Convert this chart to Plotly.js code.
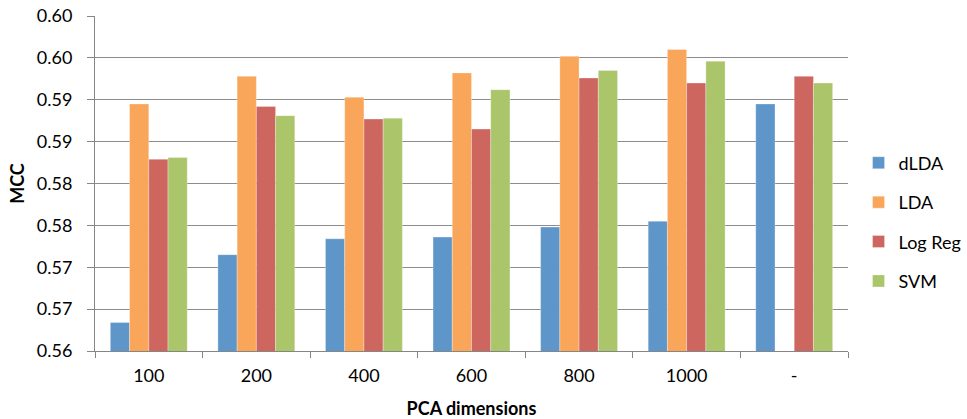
<!DOCTYPE html>
<html>
<head>
<meta charset="utf-8">
<script src="https://cdn.plot.ly/plotly-3.0.1.min.js"></script>
<style>html,body{margin:0;padding:0;background:#fff;}#chart{width:967px;height:419px;overflow:hidden;}</style>
</head>
<body>
<div id="chart"></div>
<script>
const categories = ["100", "200", "400", "600", "800", "1000", "-"];
const dLDA   = [0.5634, 0.5715, 0.5734, 0.5736, 0.5748, 0.5755, 0.5895];
const LDA    = [0.5895, 0.5928, 0.5903, 0.5932, 0.5952, 0.5960, null];
const LogReg = [0.5829, 0.5892, 0.5877, 0.5865, 0.5926, 0.5920, 0.5928];
const SVM    = [0.5831, 0.5881, 0.5878, 0.5912, 0.5935, 0.5946, 0.5920];
const yTickVals = [0.56, 0.565, 0.57, 0.575, 0.58, 0.585, 0.59, 0.595, 0.60];
const yTickText = ["0.56", "0.57", "0.57", "0.58", "0.58", "0.59", "0.59", "0.60", "0.60"];

const seriesNames = ["dLDA", "LDA", "Log Reg", "SVM"];
const seriesData = [dLDA, LDA, LogReg, SVM];
const colors = ["#5f96c9", "#f9a65a", "#ce6660", "#abc56b"];

const traces = seriesData.map((vals, i) => ({
  type: "bar",
  name: seriesNames[i],
  x: categories,
  y: vals,
  legendgroup: "g" + i,
  marker: {color: colors[i], line: {color: "rgba(255,255,255,0.6)", width: 0.5}},
  hoverinfo: "x+y+name"
}));

const fam = "Lato, 'Open Sans', sans-serif";
const font = {family: fam, size: 18, color: "#000"};

const layout = {
  width: 967, height: 419,
  margin: {l: 95, r: 119, t: 16, b: 68, autoexpand: false},
  paper_bgcolor: "#fff", plot_bgcolor: "#fff",
  font: font,
  barmode: "group",
  bargap: 0.285,
  bargroupgap: 0,
  showlegend: true,
  legend: {
    x: 1.014, xanchor: "left", y: 0.385, yanchor: "middle",
    font: {family: fam, size: 18, color: "#000"},
    tracegroupgap: 13, traceorder: "grouped"
  },
  xaxis: {
    type: "category",
    showline: true, linecolor: "#868686", linewidth: 1,
    ticks: "outside", tickson: "boundaries", ticklen: 6, tickcolor: "#868686",
    ticklabelstandoff: 8,
    showgrid: false,
    tickfont: {family: fam, size: 18, color: "#000"},
    title: {text: "<b>PCA dimensions</b>", font: {family: fam, size: 18, color: "#000"}, standoff: 19}
  },
  yaxis: {
    range: [0.56, 0.60],
    tickmode: "array", tickvals: yTickVals, ticktext: yTickText,
    showline: true, linecolor: "#868686", linewidth: 1,
    ticks: "outside", ticklen: 7, tickcolor: "#868686",
    ticklabelstandoff: 11,
    showgrid: true, gridcolor: "#8c8c8c", gridwidth: 1,
    zeroline: false,
    tickfont: {family: fam, size: 18, color: "#000"},
    title: {text: "<b>MCC</b>", font: {family: fam, size: 18, color: "#000"}, standoff: 7}
  }
};

Plotly.newPlot("chart", traces, layout, {displayModeBar: false, staticPlot: true});
</script>
</body>
</html>
